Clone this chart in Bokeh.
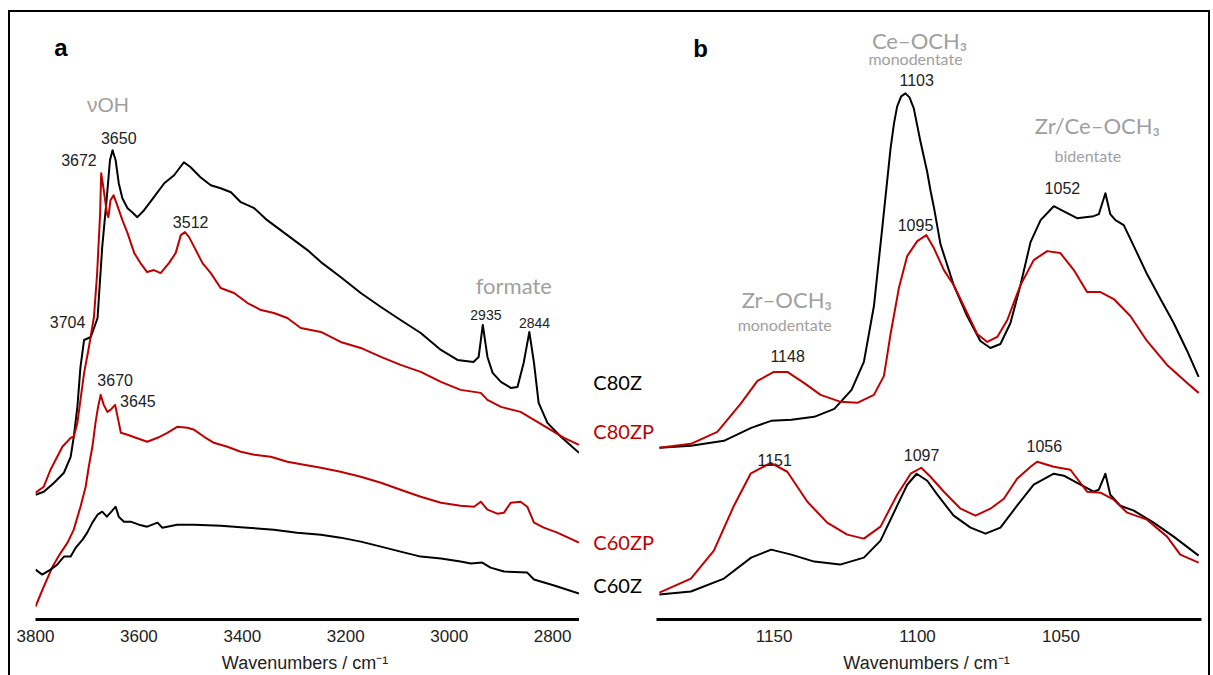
from bokeh.plotting import figure
from bokeh.models import Range1d, FixedTicker, Label, ColumnDataSource
from bokeh.core.properties import value
from bokeh.layouts import row
from bokeh.embed import file_html
from bokeh.resources import INLINE

# ---------------- Panel a : OH / CH region ----------------
a_ticks = [3800, 3600, 3400, 3200, 3000, 2800]

a_c80z_wn = [3800, 3784, 3764, 3745, 3732, 3726, 3719, 3713, 3706, 3693, 3680, 3671, 3662, 3656, 3651,
             3645, 3639, 3632, 3622, 3613, 3603, 3590, 3571, 3551, 3532, 3513, 3500, 3481, 3461, 3442,
             3422, 3403, 3377, 3352, 3326, 3300, 3274, 3248, 3210, 3171, 3132, 3094, 3055, 3016, 2984,
             2953, 2943, 2935, 2926, 2916, 2900, 2881, 2868, 2856, 2845, 2836, 2827, 2810, 2784, 2749]
a_c80z_abs = [1.25, 1.28, 1.37, 1.47, 1.63, 1.83, 2.13, 2.53, 2.80, 2.83, 3.02, 3.73, 4.23, 4.60, 4.70,
              4.60, 4.37, 4.22, 4.12, 4.08, 4.03, 4.10, 4.23, 4.37, 4.45, 4.58, 4.53, 4.43, 4.35, 4.32,
              4.28, 4.18, 4.12, 4.00, 3.90, 3.80, 3.70, 3.58, 3.43, 3.27, 3.13, 3.00, 2.87, 2.70, 2.60,
              2.58, 2.63, 2.95, 2.63, 2.47, 2.38, 2.32, 2.33, 2.57, 2.88, 2.57, 2.17, 1.97, 1.83, 1.67]

a_c80zp_wn = [3800, 3784, 3771, 3758, 3748, 3732, 3726, 3719, 3706, 3697, 3687, 3681, 3675, 3673, 3668,
              3662, 3659, 3655, 3649, 3642, 3632, 3622, 3609, 3597, 3584, 3571, 3558, 3542, 3529, 3519,
              3511, 3503, 3493, 3477, 3461, 3442, 3416, 3390, 3364, 3339, 3313, 3287, 3248, 3210, 3171,
              3132, 3094, 3055, 3016, 2978, 2939, 2926, 2900, 2862, 2836, 2810, 2778, 2749]
a_c80zp_abs = [1.27, 1.33, 1.50, 1.63, 1.73, 1.82, 1.83, 1.97, 2.47, 2.72, 3.03, 3.45, 4.07, 4.47, 4.30,
               4.07, 4.03, 4.20, 4.25, 4.15, 4.00, 3.87, 3.67, 3.57, 3.48, 3.50, 3.47, 3.57, 3.67, 3.85,
               3.88, 3.83, 3.73, 3.57, 3.47, 3.32, 3.27, 3.17, 3.10, 3.07, 3.02, 2.92, 2.88, 2.78, 2.72,
               2.63, 2.55, 2.48, 2.38, 2.30, 2.27, 2.20, 2.13, 2.08, 2.00, 1.92, 1.82, 1.75]

a_c60zp_wn = [3800, 3784, 3767, 3751, 3738, 3726, 3713, 3703, 3697, 3690, 3684, 3679, 3674, 3668, 3661,
              3655, 3646, 3640, 3635, 3622, 3606, 3584, 3564, 3545, 3526, 3506, 3493, 3474, 3455, 3429,
              3403, 3377, 3345, 3313, 3281, 3248, 3210, 3171, 3132, 3094, 3055, 3016, 2978, 2952, 2939,
              2926, 2907, 2894, 2881, 2862, 2849, 2836, 2817, 2791, 2749]
a_c60zp_abs = [0.13, 0.33, 0.53, 0.67, 0.77, 0.90, 1.13, 1.33, 1.53, 1.73, 1.97, 2.13, 2.25, 2.15, 2.08,
               2.10, 2.15, 2.00, 1.87, 1.85, 1.82, 1.78, 1.82, 1.87, 1.93, 1.92, 1.90, 1.83, 1.77, 1.73,
               1.68, 1.65, 1.63, 1.58, 1.55, 1.52, 1.48, 1.43, 1.37, 1.30, 1.23, 1.17, 1.14, 1.13, 1.18,
               1.10, 1.06, 1.07, 1.17, 1.18, 1.13, 0.97, 0.92, 0.87, 0.77]

a_c60z_wn = [3800, 3787, 3771, 3758, 3745, 3732, 3722, 3709, 3700, 3690, 3680, 3671, 3662, 3655, 3645,
             3639, 3629, 3616, 3600, 3584, 3564, 3555, 3526, 3493, 3442, 3390, 3339, 3294, 3248, 3210,
             3171, 3132, 3094, 3055, 3016, 2978, 2958, 2936, 2920, 2894, 2849, 2836, 2797, 2749]
a_c60z_abs = [0.50, 0.45, 0.50, 0.55, 0.63, 0.63, 0.72, 0.80, 0.87, 0.97, 1.05, 1.08, 1.03, 1.07, 1.13,
              1.03, 0.98, 0.98, 0.95, 0.93, 0.97, 0.92, 0.95, 0.95, 0.94, 0.92, 0.90, 0.87, 0.85, 0.82,
              0.78, 0.73, 0.68, 0.63, 0.61, 0.58, 0.56, 0.57, 0.52, 0.48, 0.47, 0.40, 0.34, 0.26]

# ---------------- Panel b : C-O methoxy region ----------------
b_ticks = [1150, 1100, 1050]

b_c80z_wn = [1190, 1179, 1167.5, 1158, 1151, 1144, 1136, 1129, 1123, 1118.7, 1115.2, 1112.3, 1109.4,
             1108.2, 1107.1, 1105.7, 1104.2, 1102.8, 1101.3, 1099, 1096.6, 1095.5, 1094.3, 1092, 1087.4,
             1082.7, 1078.1, 1074.6, 1071.1, 1067.6, 1064.1, 1060.6, 1057.1, 1052.5, 1047.8, 1044.4,
             1038.6, 1036.8, 1034.5, 1032.8, 1031, 1028.1, 1024.6, 1020, 1015.3, 1010.7, 1006, 1002]
b_c80z_abs = [1.72, 1.74, 1.79, 1.92, 1.99, 2.00, 2.03, 2.11, 2.30, 2.58, 3.14, 3.92, 4.72,
              4.97, 5.14, 5.24, 5.27, 5.23, 5.12, 4.79, 4.48, 4.30, 4.13, 3.76, 3.35,
              3.04, 2.79, 2.72, 2.76, 2.97, 3.35, 3.78, 4.00, 4.14, 4.07, 4.02,
              4.04, 4.06, 4.27, 4.06, 4.00, 3.95, 3.74, 3.46, 3.21, 2.97, 2.69, 2.43]

b_c80zp_wn = [1190, 1179, 1169.8, 1161.7, 1155.8, 1150.1, 1145.4, 1139.6, 1133.8, 1126.8, 1121, 1115.2,
              1111.7, 1109.4, 1106.5, 1103.6, 1100.1, 1096.9, 1094.3, 1090.8, 1087.4, 1082.7, 1079.2,
              1075.7, 1072.2, 1068.7, 1064.1, 1059.5, 1054.8, 1050.2, 1045.5, 1040.9, 1036.2, 1031.6,
              1025.8, 1020, 1013, 1006, 1002]
b_c80zp_abs = [1.72, 1.76, 1.88, 2.16, 2.39, 2.48, 2.48, 2.37, 2.25, 2.18, 2.17, 2.25, 2.44, 2.86, 3.32,
               3.64, 3.79, 3.85, 3.72, 3.50, 3.35, 3.07, 2.86, 2.78, 2.83, 3.00, 3.35, 3.60, 3.69, 3.67,
               3.50, 3.28, 3.28, 3.21, 3.04, 2.79, 2.55, 2.37, 2.27]

b_c60z_wn = [1190, 1179, 1167.5, 1158, 1151, 1144, 1136, 1127, 1118.7, 1112.9, 1107.1, 1103.6, 1100.3,
             1096.6, 1093.1, 1087.4, 1081.5, 1076.3, 1071.1, 1065.3, 1059.5, 1052.5, 1049, 1043.2,
             1038.6, 1036.8, 1034.5, 1032.8, 1029.3, 1024.6, 1017.7, 1010.7, 1002]
b_c60z_abs = [0.25, 0.28, 0.41, 0.62, 0.70, 0.65, 0.58, 0.55, 0.62, 0.79, 1.14, 1.35, 1.46, 1.39, 1.25,
              1.04, 0.92, 0.86, 0.92, 1.14, 1.35, 1.46, 1.44, 1.35, 1.28, 1.30, 1.46, 1.25, 1.14, 1.09,
              0.97, 0.83, 0.64]

b_c60zp_wn = [1190, 1179, 1171, 1164, 1158.2, 1151.2, 1145.4, 1138.4, 1131.5, 1124.5, 1118.7, 1112.9,
              1107.1, 1102.4, 1098.7, 1095.5, 1090.8, 1085, 1079.8, 1074.6, 1069.9, 1065.3, 1060.6,
              1058.3, 1052.5, 1046.7, 1040.9, 1036.2, 1031.6, 1026.9, 1020, 1013, 1008.4, 1002]
b_c60zp_abs = [0.27, 0.41, 0.69, 1.14, 1.46, 1.57, 1.48, 1.18, 0.97, 0.85, 0.81, 0.93, 1.25, 1.46, 1.52,
               1.43, 1.28, 1.11, 1.04, 1.11, 1.21, 1.41, 1.53, 1.58, 1.53, 1.50, 1.28, 1.27, 1.20, 1.07,
               1.00, 0.83, 0.65, 0.57]

# series names and the level at which each name is written between the panels
series_names = ["C80Z", "C80ZP", "C60ZP", "C60Z"]
series_label_level = [2.38, 1.89, 0.78, 0.35]

# ---------------- styles ----------------
BLACK = "#000000"
RED = "#C00000"
GRAY = "#A0A0A0"
NUM = "#222222"
NUM_FONT = "Liberation Sans"
NOTE_FONT = "Lato"
series_colors = [BLACK, RED, RED, BLACK]

# annotation placement: (text, x, y, font, size, color, style)
a_notes = [
    ("a", 3751, 5.73, NUM_FONT, 24, BLACK, "bold"),
    ("\u03bdOH", 3660, 5.16, NUM_FONT, 21, GRAY, "normal"),
    ("3650", 3639, 4.82, NUM_FONT, 16, NUM, "normal"),
    ("3672", 3716, 4.60, NUM_FONT, 16, NUM, "normal"),
    ("3512", 3500, 3.98, NUM_FONT, 16, NUM, "normal"),
    ("3704", 3738, 2.98, NUM_FONT, 16, NUM, "normal"),
    ("3670", 3646, 2.40, NUM_FONT, 16, NUM, "normal"),
    ("3645", 3602, 2.19, NUM_FONT, 16, NUM, "normal"),
    ("formate", 2875, 3.35, NOTE_FONT, 22, GRAY, "normal"),
    ("2935", 2929, 3.05, NUM_FONT, 14, NUM, "normal"),
    ("2844", 2835, 2.97, NUM_FONT, 14, NUM, "normal"),
]
b_notes = [
    ("b", 1175.6, 5.72, NUM_FONT, 24, BLACK, "bold"),
    ("Ce\u2013OCH\u2083", 1099.3, 5.80, NOTE_FONT, 22, GRAY, "normal"),
    ("monodentate", 1100.7, 5.62, NOTE_FONT, 16, GRAY, "normal"),
    ("1103", 1100.3, 5.40, NUM_FONT, 16, NUM, "normal"),
    ("Zr/Ce\u2013OCH\u2083", 1037.3, 4.95, NOTE_FONT, 22, GRAY, "normal"),
    ("bidentate", 1040.6, 4.65, NOTE_FONT, 16, GRAY, "normal"),
    ("1052", 1049.5, 4.32, NUM_FONT, 16, NUM, "normal"),
    ("Zr\u2013OCH\u2083", 1145.6, 3.21, NOTE_FONT, 22, GRAY, "normal"),
    ("monodentate", 1146.3, 2.95, NOTE_FONT, 16, GRAY, "normal"),
    ("1148", 1145.3, 2.64, NUM_FONT, 16, NUM, "normal"),
    ("1095", 1100.7, 3.95, NUM_FONT, 16, NUM, "normal"),
    ("1151", 1149.8, 1.60, NUM_FONT, 16, NUM, "normal"),
    ("1097", 1098.6, 1.65, NUM_FONT, 16, NUM, "normal"),
    ("1056", 1055.8, 1.74, NUM_FONT, 16, NUM, "normal"),
]

H = 663


def make_fig(xr, ticks, width, left, right):
    p = figure(width=width, height=H, x_range=xr, y_range=Range1d(0, 6.0),
               output_backend="svg", toolbar_location=None, y_axis_location=None,
               min_border_left=left, min_border_right=right, min_border_top=8,
               min_border_bottom=55, background_fill_color="white",
               border_fill_color="white")
    p.outline_line_color = None
    p.xgrid.visible = False
    p.ygrid.visible = False
    ax = p.xaxis[0]
    ax.ticker = FixedTicker(ticks=ticks)
    ax.axis_line_width = 3
    ax.axis_line_color = "black"
    ax.major_tick_line_color = None
    ax.minor_tick_line_color = None
    ax.major_tick_in = 0
    ax.major_tick_out = 0
    ax.major_label_text_font = NUM_FONT
    ax.major_label_text_font_size = "17px"
    ax.major_label_text_color = "#222222"
    ax.major_label_standoff = 10
    ax.axis_label = "Wavenumbers  / cm\u207b\u00b9"
    ax.axis_label_text_font = NUM_FONT
    ax.axis_label_text_font_style = "normal"
    ax.axis_label_text_font_size = "18px"
    ax.axis_label_text_color = "#222222"
    ax.axis_label_standoff = 8
    return p


def add_notes(p, notes):
    for text, x, y, font, size, color, style in notes:
        p.add_layout(Label(x=x, y=y, text=text, text_font=font, text_font_size=f"{size}px",
                           text_color=color, text_font_style=style, text_align="center",
                           text_baseline="middle"))


p1 = make_fig(Range1d(3800, 2748), a_ticks, 569, 25, 0)
p1.line(a_c80z_wn, a_c80z_abs, line_color=BLACK, line_width=2, line_join="round")
p1.line(a_c80zp_wn, a_c80zp_abs, line_color=RED, line_width=2, line_join="round")
p1.line(a_c60zp_wn, a_c60zp_abs, line_color=RED, line_width=2, line_join="round")
p1.line(a_c60z_wn, a_c60z_abs, line_color=BLACK, line_width=2, line_join="round")
add_notes(p1, a_notes)

# narrow strip between the panels carrying the series names
pm = figure(width=77, height=H, x_range=Range1d(0, 1), y_range=Range1d(0, 6.0),
            output_backend="svg", toolbar_location=None, x_axis_location=None,
            y_axis_location=None, min_border_left=0, min_border_right=0, min_border_top=8,
            min_border_bottom=55, background_fill_color="white", border_fill_color="white")
pm.outline_line_color = None
pm.xgrid.visible = False
pm.ygrid.visible = False
src = ColumnDataSource(dict(x=[0.18] * len(series_names), y=series_label_level,
                            text=series_names, color=series_colors))
pm.text(x="x", y="y", text="text", text_color="color", source=src,
        text_font=value(NOTE_FONT), text_font_size="20px", text_align="left",
        text_baseline="middle")

p2 = make_fig(Range1d(1191, 1001), b_ticks, 552, 0, 7)
p2.line(b_c80z_wn, b_c80z_abs, line_color=BLACK, line_width=2, line_join="round")
p2.line(b_c80zp_wn, b_c80zp_abs, line_color=RED, line_width=2, line_join="round")
p2.line(b_c60z_wn, b_c60z_abs, line_color=BLACK, line_width=2, line_join="round")
p2.line(b_c60zp_wn, b_c60zp_abs, line_color=RED, line_width=2, line_join="round")
add_notes(p2, b_notes)

layout = row(p1, pm, p2, styles={"border-top": "2px solid black", "border-left": "2px solid black",
                                 "border-right": "2px solid black", "margin-left": "8px",
                                 "margin-top": "10px"})

open("out.html", "w").write(file_html(layout, INLINE))
